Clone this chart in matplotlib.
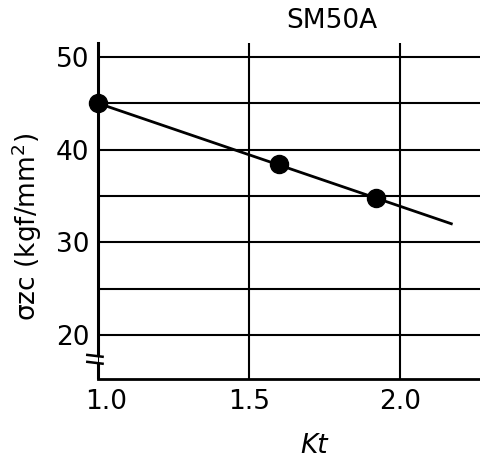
import matplotlib
matplotlib.use("Agg")
import matplotlib.pyplot as plt
import matplotlib.transforms as mtransforms

# data
kt_points = [1.0, 1.6, 1.92]
sigma_points = [45.0, 38.4, 34.8]
fit_kt = [1.0, 2.17]
fit_sigma = [45.0, 32.0]
x_ticks = [1.0, 1.5, 2.0]
x_tick_labels = ["1.0", "1.5", "2.0"]
y_ticks = [20, 30, 40, 50]
y_minor = [25, 35, 45]
y_tick_labels = ["20", "30", "40", "50"]
title = "SM50A"
xlabel = "Kt"
ylabel = "σzc (kgf/mm$^{2}$)"

plt.rcParams['font.family'] = ['DejaVu Sans']
FS = 19

fig = plt.figure(figsize=(4.8, 4.61), dpi=100)
ax = fig.add_axes([98/480, 1-379/461, 382/480, (379-43)/461])
ax.set_xlim(1.0, 2.265)
ax.set_ylim(15.25, 51.5)

ax.set_xticks(x_ticks)
ax.set_xticklabels(x_tick_labels, fontsize=FS)
ax.set_yticks(y_ticks)
ax.set_yticklabels(y_tick_labels, fontsize=FS)
ax.set_yticks(y_minor, minor=True)
ax.tick_params(axis='both', which='both', length=0)
ax.tick_params(axis='x', pad=7)
ax.tick_params(axis='y', pad=6)

# first x tick label sits slightly right of its gridline in the reference
first = ax.get_xticklabels()[0]
first.set_transform(first.get_transform() + mtransforms.ScaledTranslation(8/100, 0, fig.dpi_scale_trans))

ax.grid(True, which='both', color='black', linewidth=1.5)
ax.set_axisbelow(True)

for s in ['top', 'right']:
    ax.spines[s].set_visible(False)
ax.spines['bottom'].set_linewidth(2)
ax.spines['left'].set_linewidth(2.2)
ax.spines['left'].set_bounds(17.85, 51.5)

# axis break on y
tr = mtransforms.blended_transform_factory(ax.transAxes, ax.transData)
ax.plot([0, 0], [15.25, 17.0], transform=tr, color='black', lw=2.2, clip_on=False, solid_capstyle='butt')
ax.plot([-0.028, 0.012], [17.85, 17.65], transform=tr, color='black', lw=1.8, clip_on=False)
ax.plot([-0.028, 0.012], [17.1, 16.9], transform=tr, color='black', lw=1.8, clip_on=False)

ax.plot(fit_kt, fit_sigma, color='black', lw=2, zorder=3)
ax.plot(kt_points, sigma_points, 'o', color='black', markersize=13, zorder=4, clip_on=False)

ax.set_xlabel(xlabel, fontsize=FS, style='italic')
ax.xaxis.set_label_coords(0.565, -0.198)
ax.xaxis.label.set_va('center')
ax.set_ylabel(ylabel, fontsize=FS)
ax.yaxis.set_label_coords(-0.186, 0.452)
ax.yaxis.label.set_va('center')

fig.text(332/480, 1-21/461, title, fontsize=FS, ha='center', va='center')

fig.savefig("out.png", dpi=100)
